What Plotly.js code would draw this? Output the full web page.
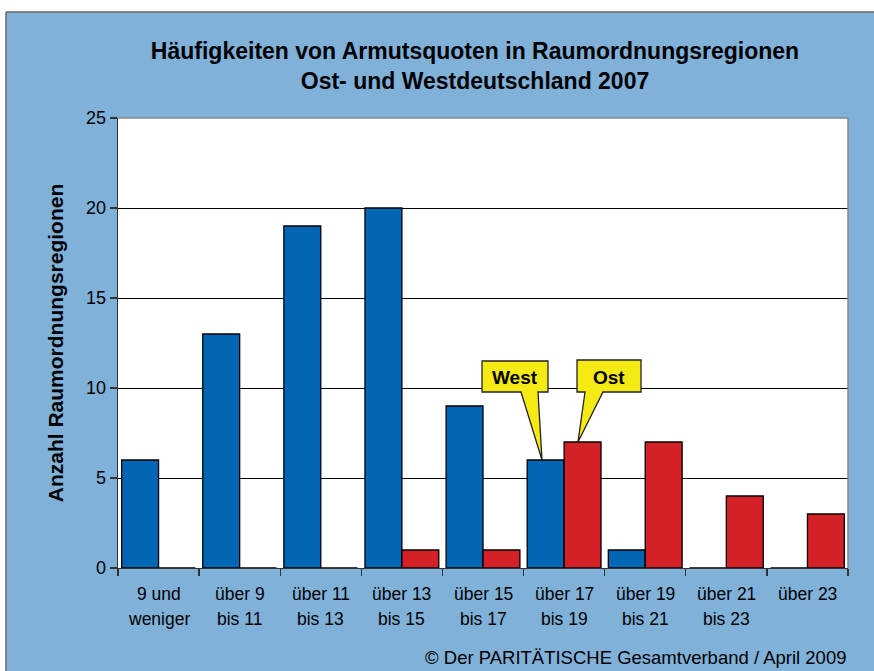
<!DOCTYPE html>
<html>
<head>
<meta charset="utf-8">
<script src="https://cdn.plot.ly/plotly-3.0.1.min.js"></script>
<style>html,body{margin:0;padding:0;background:#fff;}#chart{width:874px;height:671px;}</style>
</head>
<body>
<div id="chart"></div>
<script>
// ---- data ----
var categories = ["9 und weniger", "über 9 bis 11", "über 11 bis 13", "über 13 bis 15", "über 15 bis 17", "über 17 bis 19", "über 19 bis 21", "über 21 bis 23", "über 23"];
var labelLine1 = ["9 und", "über 9", "über 11", "über 13", "über 15", "über 17", "über 19", "über 21", "über 23"];
var labelLine2 = ["weniger", "bis 11", "bis 13", "bis 15", "bis 17", "bis 19", "bis 21", "bis 23", ""];
var westValues = [6, 13, 19, 20, 9, 6, 1, 0, 0];
var ostValues  = [0, 0, 0, 1, 1, 7, 7, 4, 3];
var yTicks = [0, 5, 10, 15, 20, 25];

// ---- geometry helpers (layout only) ----
var L = 118, R = 848, T = 118, B = 568, W = R - L, H = B - T;
function px(x) { return (x - L) / W; }
function py(y) { return (B - y) / H; }
var FONT = "Liberation Sans, Arial, sans-serif";
var BLUEBG = "#80b1d9";

var traces = [
  { type: "bar", name: "West", x: categories, y: westValues,
    marker: { color: "#0066b3", line: { color: "#000", width: 1.3 } }, hoverinfo: "x+y" },
  { type: "bar", name: "Ost", x: categories, y: ostValues,
    marker: { color: "#d42027", line: { color: "#000", width: 1.3 } }, hoverinfo: "x+y" }
];

var annotations = [];
for (var i = 0; i < categories.length; i++) {
  annotations.push({ x: categories[i], xref: "x", y: py(594), yref: "paper", text: labelLine1[i],
    showarrow: false, xanchor: "center", yanchor: "middle", font: { family: FONT, size: 17.5, color: "#000" } });
  if (labelLine2[i]) {
    annotations.push({ x: categories[i], xref: "x", y: py(619), yref: "paper", text: labelLine2[i],
      showarrow: false, xanchor: "center", yanchor: "middle", font: { family: FONT, size: 17.5, color: "#000" } });
  }
}
annotations.push({ x: px(515), xref: "paper", y: py(377), yref: "paper", text: "<b>West</b>", showarrow: false,
  xanchor: "center", yanchor: "middle", font: { family: FONT, size: 19, color: "#000" } });
annotations.push({ x: px(609), xref: "paper", y: py(377), yref: "paper", text: "<b>Ost</b>", showarrow: false,
  xanchor: "center", yanchor: "middle", font: { family: FONT, size: 19, color: "#000" } });
annotations.push({ x: px(848), xref: "paper", y: py(657), yref: "paper", text: "© Der PARITÄTISCHE Gesamtverband / April 2009",
  showarrow: false, xanchor: "right", yanchor: "middle", font: { family: FONT, size: 18.5, color: "#000" } });

function P(x, y) { return px(x) + "," + py(y); }
function Pd(x, v) { return px(x) + "," + (v / 25); }
var westTipY = westValues[5], ostTipY = ostValues[5];

var shapes = [
  // white margins and panel border
  { type: "rect", xref: "paper", yref: "paper", x0: px(-20), x1: px(6), y0: py(700), y1: py(-20), fillcolor: "#fff", line: { width: 0 }, layer: "above" },
  { type: "rect", xref: "paper", yref: "paper", x0: px(-20), x1: px(900), y0: py(12), y1: py(-20), fillcolor: "#fff", line: { width: 0 }, layer: "above" },
  { type: "line", xref: "paper", yref: "paper", x0: px(6), x1: px(900), y0: py(12), y1: py(12), line: { color: "#666", width: 1.5 }, layer: "above" },
  { type: "line", xref: "paper", yref: "paper", x0: px(6), x1: px(6), y0: py(12), y1: py(700), line: { color: "#666", width: 1.5 }, layer: "above" },
  // plot border (top and right)
  { type: "line", xref: "paper", yref: "paper", x0: 0, x1: 1, y0: 1, y1: 1, line: { color: "#888", width: 1.5 }, layer: "above" },
  { type: "line", xref: "paper", yref: "paper", x0: 1, x1: 1, y0: 0, y1: 1, line: { color: "#888", width: 1.5 }, layer: "above" },
  // callouts
  { type: "path", xref: "paper", yref: "paper", layer: "above",
    path: "M" + P(482, 361) + " L" + P(548, 361) + " L" + P(548, 392) + " L" + P(538, 392) + " L" + Pd(542, westTipY) + " L" + P(521, 392) + " L" + P(482, 392) + " Z",
    fillcolor: "#f5ea14", line: { color: "#222", width: 1.3 } },
  { type: "path", xref: "paper", yref: "paper", layer: "above",
    path: "M" + P(577, 360) + " L" + P(641, 360) + " L" + P(641, 392) + " L" + P(603, 392) + " L" + Pd(578, ostTipY) + " L" + P(585, 392) + " L" + P(577, 392) + " Z",
    fillcolor: "#f5ea14", line: { color: "#222", width: 1.3 } }
];

var layout = {
  width: 874, height: 671,
  margin: { l: L, r: 874 - R, t: T, b: 671 - B, pad: 0 },
  paper_bgcolor: BLUEBG, plot_bgcolor: "#fff",
  showlegend: false,
  barmode: "group", bargap: 0.09, bargroupgap: 0,
  font: { family: FONT, color: "#000" },
  title: { text: "<b>Häufigkeiten von Armutsquoten in Raumordnungsregionen<br>Ost- und Westdeutschland 2007</b>",
    font: { family: FONT, size: 23, color: "#000" }, x: px(475), xref: "paper", xanchor: "center",
    y: 1 - 59 / 671, yanchor: "middle" },
  xaxis: { type: "category", range: [-0.5, 8.5], showline: true, linecolor: "#333", linewidth: 1.3,
    ticks: "outside", tickson: "boundaries", ticklen: 7, tickcolor: "#333", tickwidth: 1.3,
    showticklabels: false, showgrid: false, zeroline: false, fixedrange: true },
  yaxis: { range: [0, 25], tickvals: yTicks, ticktext: yTicks.map(String), showgrid: true, gridcolor: "#000", gridwidth: 1,
    showline: true, linecolor: "#333", linewidth: 1.3, ticks: "outside", ticklen: 7, tickcolor: "#333", tickwidth: 1.3,
    zeroline: false, tickfont: { family: FONT, size: 18, color: "#000" },
    title: { text: "<b>Anzahl Raumordnungsregionen</b>", font: { family: FONT, size: 21, color: "#000" }, standoff: 16 },
    fixedrange: true },
  annotations: annotations,
  shapes: shapes
};

Plotly.newPlot("chart", traces, layout, { displayModeBar: false, staticPlot: true });
</script>
</body>
</html>
